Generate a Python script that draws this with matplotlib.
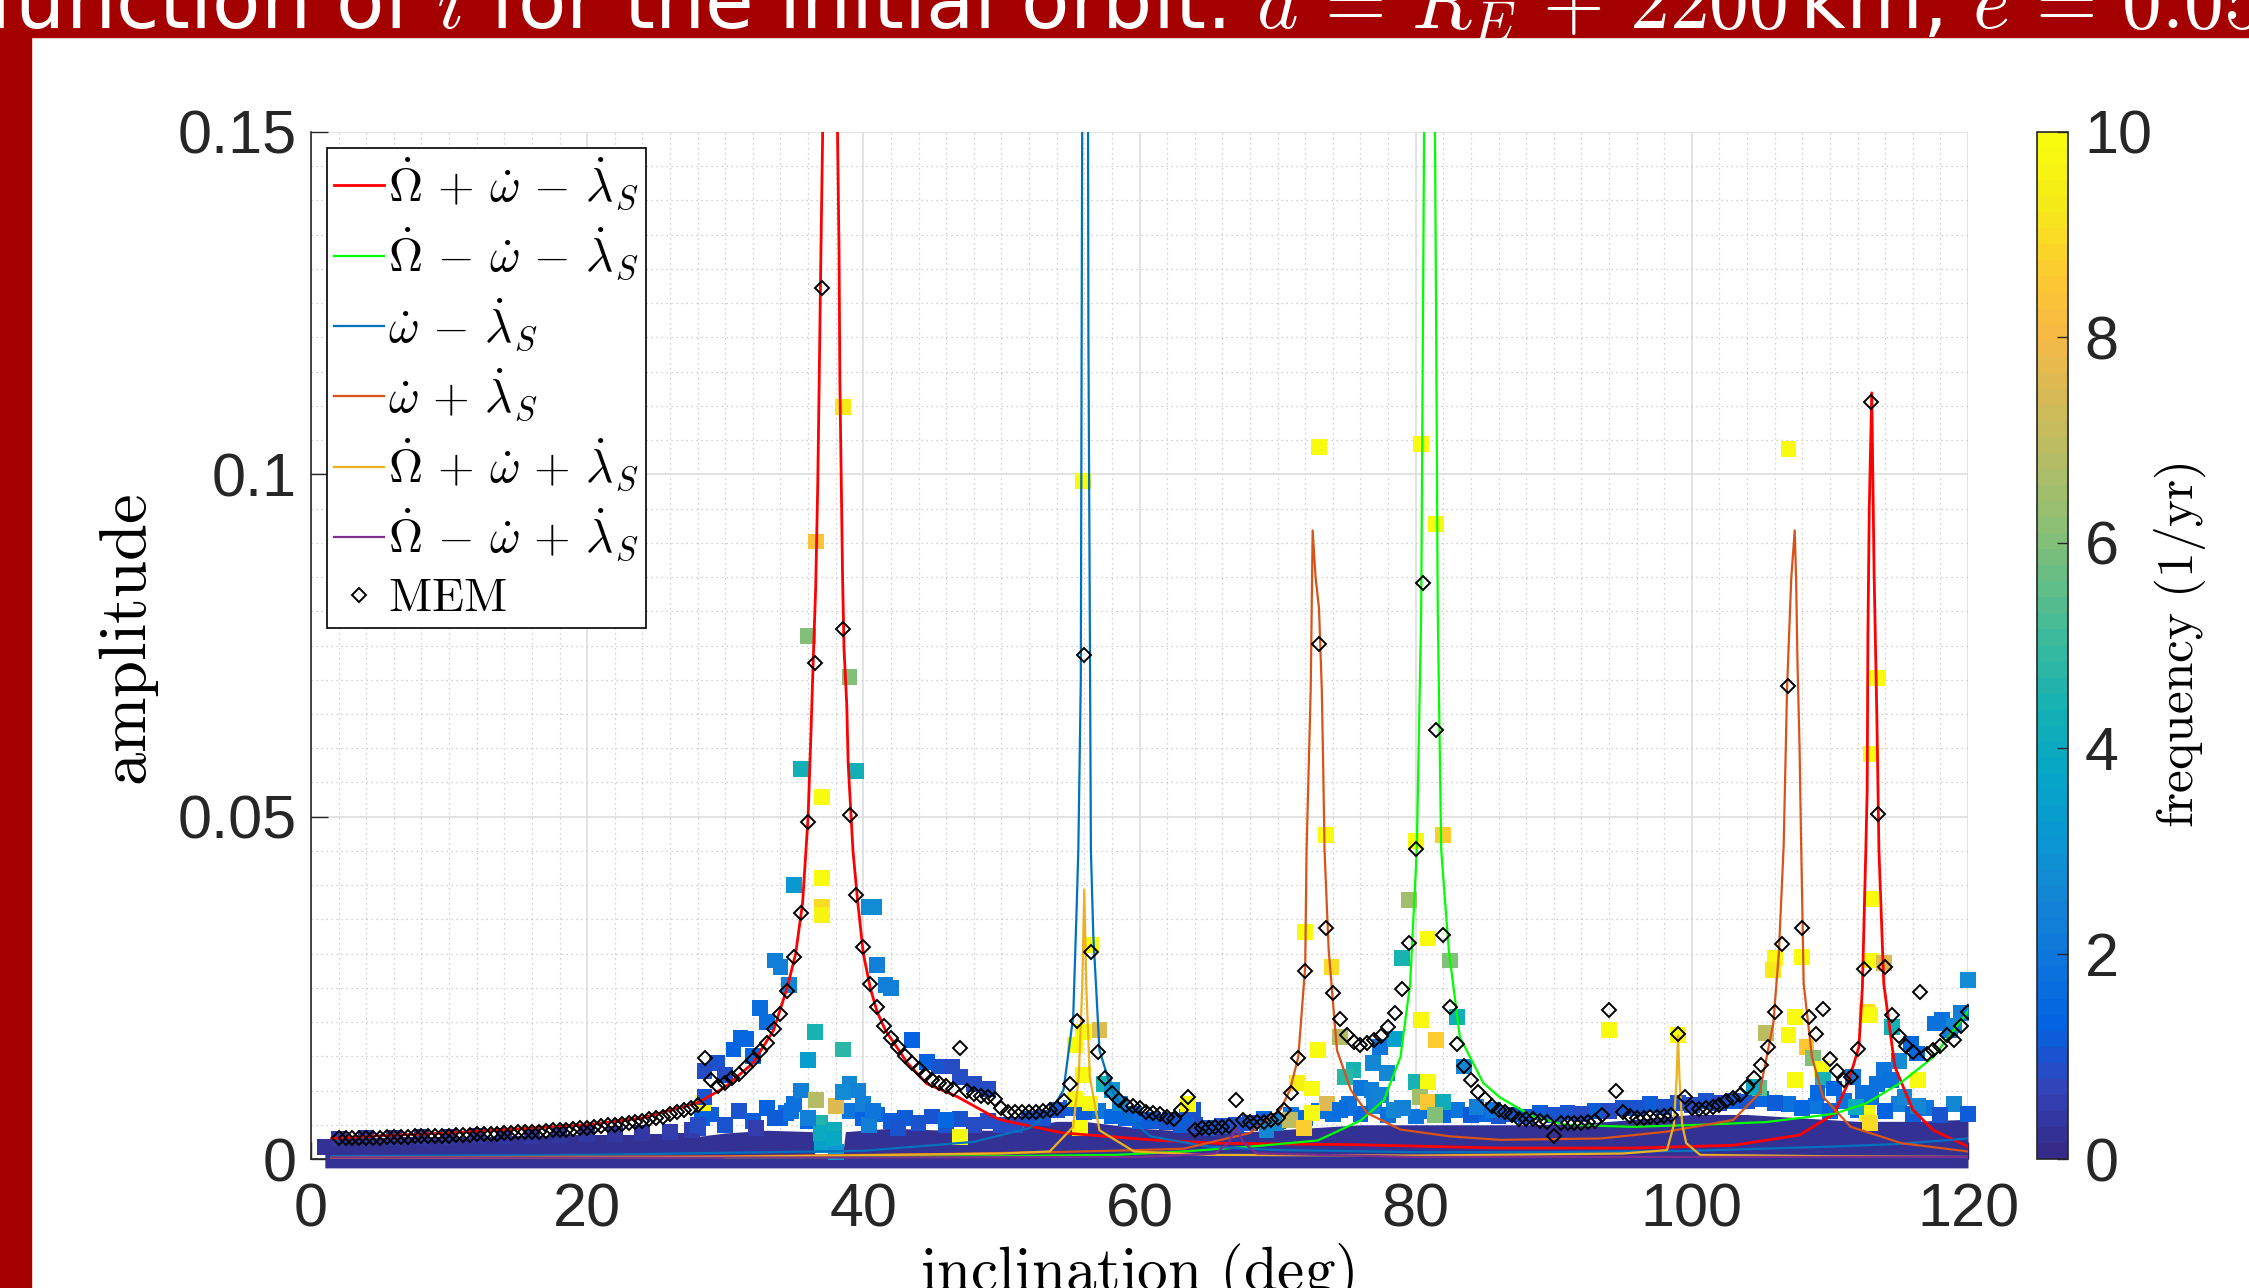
import numpy as np
import matplotlib
matplotlib.use('Agg')
import matplotlib.pyplot as plt
from matplotlib.colors import LinearSegmentedColormap
from matplotlib.patches import Rectangle
from matplotlib.ticker import MultipleLocator

plt.rcParams['mathtext.fontset'] = 'cm'
plt.rcParams['font.family'] = ['Liberation Sans', 'DejaVu Sans']

# ---- parula-like colormap (MATLAB default) ----
parula_anchors = [
    (0.2081, 0.1663, 0.5292), (0.1959, 0.2645, 0.7279), (0.0117, 0.3875, 0.8820),
    (0.0498, 0.4586, 0.8641), (0.0793, 0.5200, 0.8312), (0.0343, 0.5966, 0.8199),
    (0.0228, 0.6535, 0.7768), (0.0843, 0.6928, 0.7062), (0.2178, 0.7250, 0.6193),
    (0.3953, 0.7459, 0.5244), (0.5709, 0.7485, 0.4494), (0.7184, 0.7411, 0.3905),
    (0.8507, 0.7299, 0.3360), (0.9739, 0.7314, 0.2666), (0.9880, 0.8066, 0.1794),
    (0.9598, 0.9218, 0.0948), (0.9763, 0.9831, 0.0538)]
parula = LinearSegmentedColormap.from_list('parula', parula_anchors, N=64)

# ---- analytic resonance curves (inclination deg, amplitude) ----
red_x = [1.5, 5, 10, 15, 20, 24, 28, 30, 32, 33.5, 34.5, 35.1, 35.6, 36.0, 36.2, 36.4, 36.55,
         36.7, 36.8, 36.93, 37.2, 37.6, 38.0, 38.24, 38.3, 38.4, 38.5, 38.6, 38.8, 38.9, 39.25,
         39.6, 40.0, 40.5, 41.0, 41.6, 42.2, 43.2, 44.6, 46.8, 49.4, 50, 53.5, 54.5, 60.8, 65.6,
         75.3, 86.1, 95.8, 103, 107.8, 110.3, 111.3, 112.1, 112.35, 112.6, 112.7, 112.75, 112.85,
         113.03, 113.2, 113.4, 113.55, 113.9, 114.7, 116.0, 117.5, 120]
red_y = [0.0030, 0.0034, 0.0038, 0.0044, 0.0050, 0.0060, 0.0082, 0.0105, 0.0140, 0.0188, 0.0251,
         0.0300, 0.0374, 0.0500, 0.0618, 0.0746, 0.0835, 0.0987, 0.1132, 0.1328, 0.17, 0.25, 0.17,
         0.1328, 0.1138, 0.0992, 0.0846, 0.0746, 0.0663, 0.0578, 0.0450, 0.0374, 0.0300, 0.0250,
         0.0215, 0.0188, 0.0170, 0.0140, 0.0110, 0.0091, 0.0062, 0.0057, 0.0042, 0.0038, 0.0028,
         0.0023, 0.0021, 0.0016, 0.0016, 0.0020, 0.0035, 0.0066, 0.0110, 0.0164, 0.0250, 0.0451,
         0.0540, 0.0764, 0.0950, 0.1119, 0.0855, 0.0645, 0.0451, 0.0256, 0.0135, 0.0072, 0.0042,
         0.0018]

green_x = [30, 40, 50, 53.5, 58.3, 63.2, 68.0, 72.9, 76.0, 77.7, 78.9, 79.6, 80.08, 80.4, 80.56,
           80.75, 81.0, 81.25, 81.45, 81.6, 81.85, 82.4, 83.2, 84.9, 86.1, 88.5, 90.9, 95.7, 100.6,
           105.4, 110.3, 112.6, 115.1, 117.5, 119.9, 120]
green_y = [0.0002, 0.0003, 0.0004, 0.0005, 0.0006, 0.0011, 0.0018, 0.0027, 0.0056, 0.0086, 0.0149,
           0.0256, 0.0451, 0.0800, 0.1328, 0.2, 0.3, 0.2, 0.1328, 0.0800, 0.0451, 0.0305, 0.0178,
           0.0111, 0.0090, 0.0062, 0.0050, 0.0047, 0.0050, 0.0054, 0.0066, 0.0081, 0.0111, 0.0149,
           0.0213, 0.0216]

blue_x = [1.5, 20, 40, 48, 52, 53.5, 54.5, 55.2, 55.45, 55.57, 55.75, 55.86, 56.05, 56.3, 56.38,
          56.48, 56.65, 57.1, 57.98, 59.1, 60.8, 65, 70, 80, 90, 100, 110, 115, 120]
blue_y = [0.0004, 0.0006, 0.0012, 0.0025, 0.0045, 0.0067, 0.0101, 0.0208, 0.0368, 0.0451, 0.0700,
          0.1600, 0.4000, 0.1200, 0.0876, 0.0451, 0.0329, 0.0159, 0.0101, 0.0062, 0.0033, 0.0018,
          0.0013, 0.0010, 0.0010, 0.0012, 0.0018, 0.0022, 0.0030]

orange_x = [1.5, 30, 45, 53.5, 58, 63.2, 68.0, 70.2, 70.9, 71.5, 72.0, 72.1, 72.4, 72.54, 72.75,
            73.0, 73.2, 73.3, 73.4, 73.7, 74.3, 75.3, 76.5, 78.9, 82.5, 86.1, 93.4, 98.2, 103.0,
            104.9, 105.9, 106.3, 106.65, 106.9, 107.2, 107.45, 107.55, 107.65, 107.8, 107.9, 108.1,
            108.7, 109.5, 111.5, 115.2, 120]
orange_y = [0.0002, 0.0004, 0.0007, 0.0010, 0.0012, 0.0015, 0.0038, 0.0072, 0.0101, 0.0149, 0.0281,
            0.0451, 0.0687, 0.0918, 0.0850, 0.0804, 0.0687, 0.0577, 0.0451, 0.0305, 0.0159, 0.0101,
            0.0067, 0.0043, 0.0033, 0.0028, 0.0030, 0.0040, 0.0057, 0.0096, 0.0198, 0.0300, 0.0457,
            0.0690, 0.0848, 0.0918, 0.0848, 0.0726, 0.0603, 0.0478, 0.0256, 0.0149, 0.0091, 0.0047,
            0.0023, 0.0011]

yellow_x = [1.5, 30, 50, 53.5, 55.2, 55.6, 55.85, 56.0, 56.15, 56.4, 57.1, 59.6, 65, 80, 95, 98.2,
            98.7, 98.9, 99.0, 99.1, 99.3, 99.6, 100.6, 110, 120]
yellow_y = [0.0001, 0.0003, 0.0008, 0.0011, 0.0047, 0.0120, 0.0250, 0.0393, 0.0250, 0.0120, 0.0042,
            0.0011, 0.0006, 0.0005, 0.0008, 0.0013, 0.0050, 0.0120, 0.0180, 0.0120, 0.0050, 0.0023,
            0.0006, 0.0004, 0.0003]

purple_x = [1.5, 30, 60, 65.5, 66.5, 67.0, 67.5, 68.5, 80, 100, 120]
purple_y = [0.0002, 0.0002, 0.0003, 0.0008, 0.0025, 0.0047, 0.0025, 0.0008, 0.0003, 0.0003, 0.0003]

# ---- MEM estimates, one every 0.5 deg from 2 to 120 ----
mem_x = np.arange(2.0, 120.01, 0.5)
mem_y = [
    0.0030, 0.0030, 0.0030, 0.0031, 0.0031, 0.0031, 0.0031, 0.0032, 0.0032, 0.0032,
    0.0032, 0.0033, 0.0033, 0.0033, 0.0034, 0.0034, 0.0034, 0.0035, 0.0035, 0.0035,
    0.0036, 0.0036, 0.0037, 0.0037, 0.0038, 0.0038, 0.0039, 0.0039, 0.0040, 0.0040,
    0.0041, 0.0042, 0.0042, 0.0043, 0.0044, 0.0045, 0.0046, 0.0047, 0.0048, 0.0049,
    0.0050, 0.0051, 0.0053, 0.0054, 0.0056, 0.0058, 0.0060, 0.0062, 0.0065, 0.0068,
    0.0071, 0.0075, 0.0079, 0.0147, 0.0115, 0.0107, 0.0111, 0.0118, 0.0124, 0.0134,
    0.0145, 0.0158, 0.0170, 0.0190, 0.0212, 0.0245, 0.0295, 0.0360, 0.0492, 0.0724,
    0.1272, np.nan, np.nan, 0.0774, 0.0503, 0.0385, 0.0310, 0.0255, 0.0222, 0.0194,
    0.0176, 0.0163, 0.0150, 0.0140, 0.0131, 0.0123, 0.0116, 0.0111, 0.0106, 0.0102,
    0.0162, 0.0099, 0.0095, 0.0092, 0.0090, 0.0088, 0.0074, 0.0069, 0.0069, 0.0069,
    0.0069, 0.0069, 0.0070, 0.0072, 0.0074, 0.0084, 0.0110, 0.0202, 0.0736, 0.0302,
    0.0156, 0.0118, 0.0096, 0.0086, 0.0079, 0.0077, 0.0074, 0.0069, 0.0067, 0.0065,
    0.0062, 0.0059, 0.0072, 0.0091, 0.0042, 0.0045, 0.0046, 0.0047, 0.0047, 0.0048,
    0.0086, 0.0057, 0.0054, 0.0054, 0.0054, 0.0057, 0.0060, 0.0072, 0.0096, 0.0147,
    0.0275, np.nan, 0.0752, 0.0337, 0.0242, 0.0204, 0.0181, 0.0171, 0.0166, 0.0169,
    0.0174, 0.0179, 0.0193, 0.0213, 0.0249, 0.0315, 0.0453, 0.0841, np.nan, 0.0627,
    0.0327, 0.0222, 0.0168, 0.0136, 0.0115, 0.0098, 0.0087, 0.0077, 0.0072, 0.0069,
    0.0064, 0.0059, 0.0059, 0.0059, 0.0056, 0.0054, 0.0034, 0.0053, 0.0053, 0.0053,
    0.0053, 0.0054, 0.0056, 0.0064, 0.0218, 0.0100, 0.0069, 0.0063, 0.0060, 0.0060,
    0.0061, 0.0061, 0.0063, 0.0064, 0.0183, 0.0090, 0.0074, 0.0073, 0.0074, 0.0076,
    0.0079, 0.0084, 0.0089, 0.0093, 0.0105, 0.0118, 0.0137, 0.0163, 0.0215, 0.0314,
    0.0691, np.nan, 0.0338, 0.0207, 0.0182, 0.0219, 0.0146, 0.0128, 0.0116, 0.0120,
    0.0160, 0.0277, 0.1105, 0.0504, 0.0281, 0.0211, 0.0180, 0.0165, 0.0157, 0.0244,
    0.0154, 0.0159, 0.0165, 0.0181, 0.0174, 0.0194, 0.0215]

# ---- numerically extracted spectral peaks: inclination, amplitude, frequency (1/yr) ----
sq_incl = [38.5, 36.55, 36.0, 39.0, 35.5, 39.5, 37.0, 37.0, 35.0, 37.0, 37.0, 40.4, 40.8, 33.6,
           34.0, 41.0, 34.6, 41.6, 42.0, 32.5, 33.0, 36.5, 38.5, 36.0, 31.1, 30.6, 31.5, 29.4,
           28.5, 30.0, 32.0, 43.5, 44.6, 45.5, 46.4, 47.0, 48.0, 49.0, 35.5, 36.6, 38.0, 39.0,
           39.6, 38.5, 36.9, 36.9, 37.9, 37.9, 36.0, 40.0, 40.4, 46.0, 34.4, 34.8, 33.6, 32.2,
           27.6, 28.3, 28.4, 47.0, 40.7, 42.5, 28.5, 28.0,
           55.9, 56.5, 57.1, 55.9, 55.3, 55.9, 55.3, 56.4, 57.4, 58.0, 55.7, 58.6, 59.6, 60.8,
           62.2, 63.4, 63.9, 63.5, 68.0, 69.2, 69.9,
           73.0, 80.4, 81.5, 73.5, 80.0, 82.0, 72.0, 73.9, 72.95, 71.4, 72.5, 73.6, 72.5, 70.9,
           71.9, 74.5, 75.5, 74.9, 76.9, 77.9, 76.0, 76.8, 77.5, 78.4, 77.4, 78.5, 79.1, 75.2,
           74.5, 79.5, 79.0, 80.9, 82.5, 80.4, 81.5, 80.0, 80.9, 80.3, 80.9, 82.0, 81.4, 83.0,
           83.5, 84.4, 85.6,
           107.0, 113.5, 112.95, 113.0, 106.0, 107.95, 105.9, 113.0, 113.9, 120.0, 94.0, 99.0,
           107.5, 107.0, 105.4, 108.3, 108.8, 109.4, 109.5, 107.5, 104.9, 112.7, 112.9, 114.5,
           111.7, 110.3, 109.1, 112.4, 113.9, 115.0, 113.4, 114.4, 115.4, 116.4, 116.4, 115.9,
           116.3, 117.6, 118.1, 119.5, 118.7, 112.7, 112.9, 111.9, 104.5, 119.0]
sq_amp = [0.1098, 0.0902, 0.0764, 0.0704, 0.0570, 0.0567, 0.0529, 0.0410, 0.0400, 0.0368, 0.0356,
          0.0368, 0.0368, 0.0290, 0.0280, 0.0283, 0.0254, 0.0254, 0.0250, 0.0220, 0.0200, 0.0185,
          0.0160, 0.0145, 0.0177, 0.0160, 0.0175, 0.0140, 0.0128, 0.0123, 0.0150, 0.0174, 0.0142,
          0.0135, 0.0135, 0.0120, 0.0110, 0.0102, 0.0100, 0.0086, 0.0077, 0.0110, 0.0100, 0.0098,
          0.0052, 0.0038, 0.0042, 0.0030, 0.0060, 0.0080, 0.0050, 0.0057, 0.0067, 0.0070, 0.0060,
          0.0045, 0.0042, 0.0060, 0.0082, 0.0032, 0.0070, 0.0045, 0.0091, 0.0050,
          0.0990, 0.0312, 0.0188, 0.0186, 0.0166, 0.0123, 0.0088, 0.0081, 0.0110, 0.0101, 0.0045,
          0.0081, 0.0066, 0.0057, 0.0057, 0.0062, 0.0072, 0.0080, 0.0052, 0.0042, 0.0052,
          0.1040, 0.1044, 0.0927, 0.0473, 0.0464, 0.0473, 0.0332, 0.0281, 0.0159, 0.0111, 0.0103,
          0.0081, 0.0067, 0.0057, 0.0045, 0.0178, 0.0130, 0.0120, 0.0140, 0.0125, 0.0104, 0.0101,
          0.0094, 0.0072, 0.0163, 0.0175, 0.0074, 0.0081, 0.0072, 0.0378, 0.0293, 0.0322, 0.0290,
          0.0203, 0.0174, 0.0113, 0.0113, 0.0091, 0.0083, 0.0083, 0.0064, 0.0208, 0.0135, 0.0076,
          0.0072,
          0.1037, 0.0702, 0.0591, 0.0380, 0.0293, 0.0295, 0.0276, 0.0290, 0.0286, 0.0262, 0.0188,
          0.0181, 0.0208, 0.0181, 0.0184, 0.0164, 0.0147, 0.0132, 0.0115, 0.0115, 0.0104, 0.0215,
          0.0210, 0.0193, 0.0120, 0.0103, 0.0096, 0.0096, 0.0130, 0.0143, 0.0110, 0.0115, 0.0091,
          0.0078, 0.0115, 0.0168, 0.0154, 0.0198, 0.0203, 0.0213, 0.0188, 0.0067, 0.0052, 0.0076,
          0.0105, 0.0195]
sq_freq = [9.3, 8.3, 6.0, 6.0, 4.3, 4.3, 10, 10, 3.2, 9.0, 9.6, 2.8, 2.8, 2.3, 2.3, 2.3, 2.4, 2.3,
           2.3, 1.7, 1.7, 4.5, 4.8, 3.3, 1.5, 1.3, 1.5, 1.0, 0.8, 0.8, 1.5, 1.3, 1.3, 1.0, 0.9,
           0.9, 0.8, 0.8, 2.2, 6.8, 7.6, 2.6, 2.4, 2.8, 4.6, 4.0, 4.2, 3.8, 2.3, 2.3, 2.3, 1.5,
           1.6, 1.8, 1.2, 0.6, 0.5, 1.3, 10, 10, 2.0, 1.0, 1.0, 0.9,
           10, 10, 7.5, 10, 10, 10, 10, 10, 4.5, 3.0, 10, 2.5, 1.5, 1.2, 1.0, 1.2, 1.0, 10, 1.0,
           2.5, 2.8,
           10, 10, 10, 10, 10, 8.7, 10, 9.0, 10, 9.5, 10, 7.5, 10, 7.0, 8.7, 6.8, 4.5, 4.8, 2.5,
           2.5, 2.0, 2.2, 2.4, 2.5, 2.0, 3.5, 2.4, 1.8, 1.6, 6.5, 4.5, 10, 6.0, 9.8, 8.6, 4.5, 10,
           6.5, 8.5, 4.2, 6.0, 4.3, 2.5, 2.3, 2.0,
           10, 10, 10, 10, 9.8, 10, 9.3, 10, 7.5, 2.8, 10, 10, 10, 10, 7.0, 8.5, 6.0, 10, 4.5, 10,
           5.5, 9.0, 10, 4.3, 2.0, 1.5, 1.5, 1.8, 2.0, 2.8, 1.8, 1.8, 2.5, 2.5, 10, 1.5, 1.5, 1.8,
           1.8, 2.2, 2.0, 10, 9.0, 4.0, 4.0, 2.5]

# low-amplitude floor of the spectrum
band_x = [1, 5, 10, 15, 20, 25, 28, 30, 33, 36.3, 36.5, 38.5, 38.7, 42, 46, 50, 54, 56, 60, 64,
          68, 72, 76, 80, 84, 88, 92, 96, 100, 104, 108, 112, 116, 120]
band_top = [0.0025, 0.0025, 0.0026, 0.0027, 0.0028, 0.0030, 0.0033, 0.0038, 0.0042, 0.0040,
            0.0006, 0.0006, 0.0040, 0.0045, 0.0042, 0.0042, 0.0055, 0.0055, 0.0045, 0.0040,
            0.0040, 0.0045, 0.0050, 0.0050, 0.0050, 0.0050, 0.0052, 0.0058, 0.0065, 0.0065,
            0.0060, 0.0055, 0.0055, 0.0058]
band_sq_x = np.arange(2, 121, 2)
band_sq_amp = [0.0030, 0.0031, 0.0031, 0.0032, 0.0032, 0.0033, 0.0033, 0.0034, 0.0035, 0.0036,
               0.0037, 0.0038, 0.0040, 0.0045, 0.0050, 0.0055, 0.0060, 0.0055, 0.0010, 0.0060,
               0.0055, 0.0052, 0.0050, 0.0050, 0.0050, 0.0058, 0.0072, 0.0068, 0.0062, 0.0056,
               0.0054, 0.0050, 0.0048, 0.0052, 0.0055, 0.0060, 0.0065, 0.0066, 0.0064, 0.0062,
               0.0064, 0.0064, 0.0062, 0.0062, 0.0064, 0.0066, 0.0070, 0.0074, 0.0076, 0.0079,
               0.0082, 0.0084, 0.0082, 0.0074, 0.0070, 0.0072, 0.0070, 0.0066, 0.0064, 0.0066]
band_sq_freq = [0.4, 0.4, 0.4, 0.4, 0.4, 0.4, 0.4, 0.4, 0.4, 0.4, 0.4, 0.4, 0.5, 0.8, 1.0, 1.2,
                1.3, 1.5, 3.0, 1.4, 1.2, 1.0, 1.0, 0.8, 0.8, 1.0, 1.0, 1.2, 1.5, 1.2, 1.0, 0.8,
                1.0, 1.0, 1.2, 1.5, 1.8, 1.5, 1.8, 2.0, 1.5, 1.2, 1.0, 1.0, 1.0, 0.9, 0.9, 1.0,
                1.0, 0.9, 0.9, 1.0, 1.2, 1.5, 1.3, 1.5, 1.3, 1.2, 1.0, 1.2]
band2_x = np.arange(1, 120, 2)
band2_amp = [0.0018, 0.0019, 0.0019, 0.0020, 0.0020, 0.0021, 0.0021, 0.0022, 0.0022, 0.0023,
             0.0023, 0.0024, 0.0025, 0.0026, 0.0065, 0.0070, 0.0075, 0.0080, 0.0020, 0.0070,
             0.0065, 0.0060, 0.0062, 0.0058, 0.0055, 0.0050, 0.0060, 0.0075, 0.0070, 0.0060,
             0.0055, 0.0050, 0.0045, 0.0050, 0.0058, 0.0065, 0.0070, 0.0075, 0.0078, 0.0075,
             0.0070, 0.0072, 0.0065, 0.0065, 0.0068, 0.0068, 0.0070, 0.0075, 0.0080, 0.0082,
             0.0085, 0.0085, 0.0088, 0.0080, 0.0078, 0.0085, 0.0090, 0.0080, 0.0075, 0.0080]
band2_freq = [0.3, 0.3, 0.3, 0.3, 0.3, 0.3, 0.3, 0.3, 0.3, 0.3, 0.3, 0.3, 0.3, 0.3, 1.2, 1.0,
              1.3, 1.8, 3.5, 2.0, 1.5, 1.2, 1.0, 1.0, 0.9, 0.8, 1.0, 1.2, 2.0, 1.5, 1.0, 1.2,
              1.0, 1.0, 1.5, 2.0, 1.8, 2.0, 2.2, 2.5, 1.8, 2.0, 1.5, 1.2, 1.2, 1.0, 1.2, 1.0,
              1.2, 1.0, 1.0, 1.2, 1.5, 1.8, 2.0, 1.8, 1.8, 2.2, 2.0, 2.5]

W, H = 2249, 1288
fig = plt.figure(figsize=(W / 100, H / 100), dpi=100)
red_bg = '#a50000'
fig.patches.append(Rectangle((0, 1 - 37 / H), 1, 37 / H, transform=fig.transFigure,
                             color=red_bg, zorder=0))
fig.patches.append(Rectangle((0, 0), 31 / W, 1, transform=fig.transFigure,
                             color=red_bg, zorder=0))
fig.text(-0.006, 1 - 28 / H,
         r'function of $i$ for the initial orbit: $a\, =\, R_E\, +\, 2200\,$km, $e\, =\, 0.05$',
         color='white', fontsize=57, family=['DejaVu Sans'], va='baseline', ha='left')

ax = fig.add_axes([311 / W, 1 - 1159 / H, (1968 - 311) / W, (1159 - 132) / H])
cax = fig.add_axes([2037 / W, 1 - 1159 / H, 31 / W, (1159 - 132) / H])

ax.fill_between(band_x, -0.0013, band_top, color=parula(0.03), lw=0, zorder=2.6, clip_on=False)
ax.scatter(band2_x, band2_amp, c=band2_freq, cmap=parula, vmin=0, vmax=10, marker='s',
           s=130, linewidths=0, zorder=2.62, clip_on=False)
ax.scatter(band_sq_x, band_sq_amp, c=band_sq_freq, cmap=parula, vmin=0, vmax=10, marker='s',
           s=130, linewidths=0, zorder=2.65, clip_on=False)
sc = ax.scatter(sq_incl, sq_amp, c=sq_freq, cmap=parula, vmin=0, vmax=10, marker='s',
                s=130, linewidths=0, zorder=2.7, clip_on=False)

h1, = ax.plot(red_x, red_y, color='#ff0000', lw=2.0, zorder=3)
h2, = ax.plot(green_x, green_y, color='#00ff00', lw=1.6, zorder=3)
h3, = ax.plot(blue_x, blue_y, color='#0072bd', lw=1.6, zorder=3)
h4, = ax.plot(orange_x, orange_y, color='#d95319', lw=1.6, zorder=3)
h5, = ax.plot(yellow_x, yellow_y, color='#edb120', lw=1.6, zorder=3)
h6, = ax.plot(purple_x, purple_y, color='#7e2f8e', lw=1.6, zorder=3)
h7, = ax.plot(mem_x, mem_y, ls='none', marker='D', ms=7.5, mfc='none', mec='black',
              mew=1.4, zorder=4)

ax.set_xlim(0, 120)
ax.set_ylim(0, 0.15)
ax.set_xticks([0, 20, 40, 60, 80, 100, 120])
ax.set_yticks([0, 0.05, 0.1, 0.15])
ax.set_yticklabels(['0', '0.05', '0.1', '0.15'])
ax.xaxis.set_minor_locator(MultipleLocator(2))
ax.yaxis.set_minor_locator(MultipleLocator(0.005))
ax.set_axisbelow(True)
ax.grid(True, which='major', color='#dedede', lw=1.2)
ax.grid(True, which='minor', color='#c4c4c4', lw=0.9, ls=(0, (1, 3)))
ax.tick_params(which='major', direction='in', length=12, width=1, labelsize=44,
               colors='#262626', pad=17)
ax.tick_params(axis='y', pad=10)
ax.tick_params(which='minor', length=0)
for s in ['top', 'right']:
    ax.spines[s].set_visible(False)
for s in ['left', 'bottom']:
    ax.spines[s].set_color('#262626')
    ax.spines[s].set_linewidth(1.2)

leg = ax.legend([h1, h2, h3, h4, h5, h6, h7],
                [r'$\dot\Omega\, +\, \dot\omega\, -\, \dot\lambda_S$',
                 r'$\dot\Omega\, -\, \dot\omega\, -\, \dot\lambda_S$',
                 r'$\dot\omega\, -\, \dot\lambda_S$',
                 r'$\dot\omega\, +\, \dot\lambda_S$',
                 r'$\dot\Omega\, +\, \dot\omega\, +\, \dot\lambda_S$',
                 r'$\dot\Omega\, -\, \dot\omega\, +\, \dot\lambda_S$',
                 r'$\mathrm{MEM}$'],
                loc='upper left', bbox_to_anchor=(0.0097, 0.984), borderaxespad=0,
                fontsize=34, handlelength=1.05, handletextpad=0.1, labelspacing=0.27,
                borderpad=0.15, fancybox=False, framealpha=1, edgecolor='black')
leg.get_frame().set_linewidth(1.2)
leg.set_zorder(10)

cb = fig.colorbar(sc, cax=cax)
cb.set_ticks([0, 2, 4, 6, 8, 10])
cb.ax.tick_params(direction='in', length=8, width=1, labelsize=44, colors='#262626', pad=12)
cb.outline.set_edgecolor('#262626')
cb.outline.set_linewidth(1.2)

fig.text(129 / W, 1 - 640 / H, r'$\mathrm{amplitude}$', rotation=90, fontsize=48,
         ha='center', va='center')
fig.text(2180 / W, 1 - 645 / H, r'$\mathrm{frequency\ (1/yr)}$', rotation=90, fontsize=37,
         ha='center', va='center')
fig.text(1137 / W, -2 / H, r'$\mathrm{inclination\ (deg)}$', fontsize=44,
         ha='center', va='baseline')

fig.savefig('out.png', dpi=100)
